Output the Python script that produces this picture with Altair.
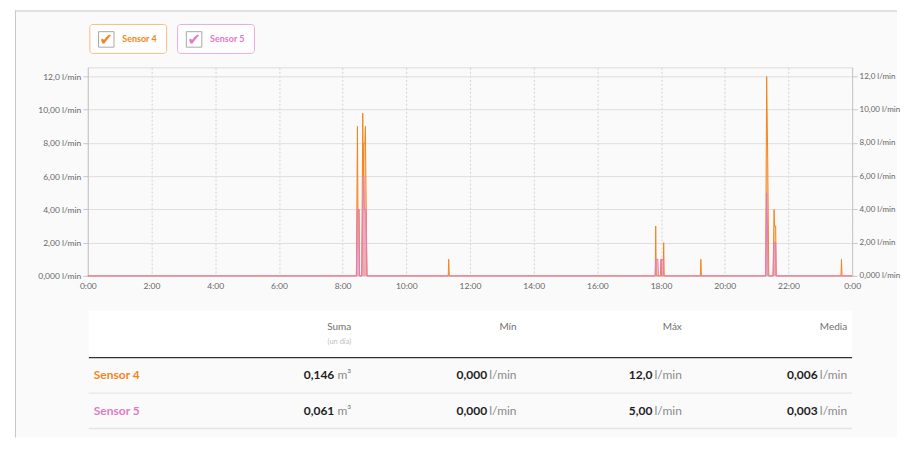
import altair as alt
import pandas as pd

# ---------------- data ----------------
SENSORS = ["Sensor 4", "Sensor 5"]
SENSOR_COLORS = ["#f7841a", "#e27ac6"]
LEGEND_BORDERS = ["#f5bf85", "#e9a9dc"]

S4_TIMES = ["0:00", "8:26", "8:28", "8:29", "8:31", "8:32", "8:36", "8:38", "8:39", "8:40",
            "8:42", "8:43", "8:44", "8:46", "11:19", "11:20", "11:21", "17:49", "17:50",
            "17:51", "17:59", "18:00", "18:01", "18:04", "18:05", "18:06", "19:14", "19:15",
            "19:16", "21:17", "21:19", "21:21", "21:23", "21:31", "21:33", "21:34", "21:36",
            "21:37", "23:39", "23:40", "23:41", "24:00"]
S4_VALUES = [0, 0, 9.0, 4.0, 4.0, 0, 0, 9.8, 6.0, 8.0,
             8.0, 9.0, 5.5, 0, 0, 1.0, 0, 0, 3.0,
             0, 0, 1.0, 0, 0, 2.0, 0, 0, 1.0,
             0, 0, 12.0, 7.0, 0, 0, 4.0, 3.0, 3.0,
             0, 0, 1.0, 0, 0]

S5_TIMES = ["0:00", "8:26", "8:28", "8:31", "8:32", "8:36", "8:38", "8:40", "8:41", "8:44",
            "8:46", "17:49", "17:50", "17:54", "17:55", "17:59", "18:00", "18:04", "18:05",
            "21:17", "21:19", "21:21", "21:22", "21:31", "21:33", "21:36", "21:37", "24:00"]
S5_VALUES = [0, 0, 4.0, 4.0, 0, 0, 4.0, 6.0, 4.0, 4.0,
             0, 0, 1.0, 1.0, 0, 0, 1.0, 1.0, 0,
             0, 5.0, 2.0, 0, 0, 2.0, 2.0, 0, 0]

X_TICKS = [0, 2, 4, 6, 8, 10, 12, 14, 16, 18, 20, 22, 24]
X_LABELS = ["0:00", "2:00", "4:00", "6:00", "8:00", "10:00", "12:00", "14:00", "16:00",
            "18:00", "20:00", "22:00", "0:00"]
Y_TICKS = [0, 2, 4, 6, 8, 10, 12]
Y_LABELS = ["0,000 l/min", "2,00 l/min", "4,00 l/min", "6,00 l/min", "8,00 l/min",
            "10,00 l/min", "12,0 l/min"]

COLUMNS = ["Suma", "Mín", "Máx", "Media"]
SUBTITLES = ["(un día)", "", "", ""]
UNITS = ["m³", "l/min", "l/min", "l/min"]
S4_STATS = ["0,146", "0,000", "12,0", "0,006"]
S5_STATS = ["0,061", "0,000", "5,00", "0,003"]


def to_hours(t):
    h, m = t.split(":")
    return int(h) + int(m) / 60.0


def label_expr(vals, labels):
    expr = "''"
    for v, l in reversed(list(zip(vals, labels))):
        expr = f"datum.value == {v} ? '{l}' : ({expr})"
    return expr


rows = []
for sensor, times, values in [("Sensor 4", S4_TIMES, S4_VALUES), ("Sensor 5", S5_TIMES, S5_VALUES)]:
    for t, v in zip(times, values):
        rows.append({"sensor": sensor, "hour": to_hours(t), "value": v})
series = pd.DataFrame(rows)

stats_rows = []
for sensor, stats in [("Sensor 4", S4_STATS), ("Sensor 5", S5_STATS)]:
    for c, n, u in zip(COLUMNS, stats, UNITS):
        stats_rows.append({"sensor": sensor, "col": c, "num": n, "unit": u})
stats = pd.DataFrame(stats_rows)

one = pd.DataFrame({"k": [0]})

color_enc = alt.Color("sensor:N", scale=alt.Scale(domain=SENSORS, range=SENSOR_COLORS), legend=None)

# ---------------- legend panel (also carries the card background) ----------------
card = alt.Chart(one).mark_rect(fill="#fafafa", strokeWidth=0).encode(
    x=alt.value(-73), x2=alt.value(811), y=alt.value(-14), y2=alt.value(414))
left_border = alt.Chart(one).mark_rule(color="#c6c6c6", strokeWidth=1).encode(
    x=alt.value(-72.5), y=alt.value(-14), y2=alt.value(414))
top_border = alt.Chart(one).mark_rule(color="#c6c6c6", strokeWidth=1).encode(
    x=alt.value(-73), x2=alt.value(811), y=alt.value(-13.5))

leg_df = pd.DataFrame({"sensor": SENSORS})
lx = alt.X("sensor:N", scale=alt.Scale(type="band", domain=SENSORS, paddingInner=0.125,
                                       paddingOuter=0.0227), axis=None)
boxes = alt.Chart(leg_df).mark_rect(fill="white", cornerRadius=3, strokeWidth=1).encode(
    x=lx,
    stroke=alt.Stroke("sensor:N", scale=alt.Scale(domain=SENSORS, range=LEGEND_BORDERS), legend=None),
)
checkbox = alt.Chart(leg_df).mark_point(shape="square", size=240, filled=True, fill="white",
                                        stroke="#a8a8a8", strokeWidth=1, opacity=1,
                                        xOffset=-22).encode(x=lx, y=alt.value(15))
check = alt.Chart(leg_df).mark_text(text="✔", font="DejaVu Sans", fontSize=16, fontWeight="bold",
                                    dx=-22, baseline="middle").encode(x=lx, y=alt.value(15.5),
                                                                      color=color_enc)
leg_label = alt.Chart(leg_df).mark_text(align="left", baseline="middle", dx=-6, fontWeight="bold",
                                        fontSize=9).encode(x=lx, y=alt.value(15), text="sensor:N",
                                                           color=color_enc)
legend_panel = alt.layer(card, left_border, top_border, boxes, checkbox, check, leg_label).properties(
    width=169, height=29, view=alt.ViewBackground(stroke="transparent"))

# ---------------- main panel ----------------
x_enc = alt.X("hour:Q", scale=alt.Scale(domain=[0, 24], nice=False, zero=False),
              axis=alt.Axis(values=X_TICKS, labelExpr=label_expr(X_TICKS, X_LABELS), title=None,
                            grid=True, gridColor="#d2d2d2", gridDash=[2, 2], ticks=False,
                            domain=False, labelFontSize=8.5, labelColor="#666666",
                            labelPadding=6, labelFlush=False))
y_scale = alt.Scale(domain=[0, 12.55], nice=False)
y_left = alt.Y("value:Q", stack=None, scale=y_scale,
               axis=alt.Axis(values=Y_TICKS, labelExpr=label_expr(Y_TICKS, Y_LABELS), orient="left",
                             title=None, grid=True, gridColor="#dedede", tickColor="#c8c8c8",
                             tickSize=5, domainColor="#c8c8c8", labelPadding=2,
                             labelFontSize=8.5, labelColor="#666666"))
y_right = alt.Y("value:Q", stack=None, scale=y_scale,
                axis=alt.Axis(values=Y_TICKS, labelExpr=label_expr(Y_TICKS, Y_LABELS), orient="right",
                              title=None, grid=False, tickColor="#c8c8c8", tickSize=5,
                              domainColor="#c8c8c8", labelPadding=2, labelFontSize=8,
                              labelColor="#666666"))

area = alt.Chart(series).mark_area(opacity=0.4).encode(x=x_enc, y=y_left, color=color_enc)
line = alt.Chart(series).mark_line(strokeWidth=1).encode(x=x_enc, y=y_right, color=color_enc)

main = alt.layer(area, line).resolve_axis(y="independent").properties(
    width=766, height=209, view=alt.ViewBackground(stroke="#dcdcdc"))

# ---------------- table panel ----------------
cols_df = pd.DataFrame({"col": COLUMNS, "sub": SUBTITLES})
cx = alt.X("col:N", scale=alt.Scale(type="point", domain=COLUMNS, range=[264, 761], padding=0),
           axis=None)
ry = alt.Y("sensor:N", scale=alt.Scale(type="band", domain=SENSORS, range=[68, 139],
                                       paddingInner=0, paddingOuter=0), axis=None)

header_bg = alt.Chart(one).mark_rect(fill="white").encode(
    x=alt.value(1), x2=alt.value(766), y=alt.value(21), y2=alt.value(68))
header_text = alt.Chart(cols_df).mark_text(align="right", baseline="middle", fontSize=10,
                                           color="#707070").encode(x=cx, y=alt.value(37), text="col:N")
sub_text = alt.Chart(cols_df).mark_text(align="right", baseline="middle", fontSize=7.5,
                                        color="#c0c0c0").encode(x=cx, y=alt.value(52), text="sub:N")
header_line = alt.Chart(one).mark_rule(color="#333333", strokeWidth=1.2).encode(
    x=alt.value(1), x2=alt.value(766), y=alt.value(68))
row_line1 = alt.Chart(one).mark_rule(color="#e3e3e3", strokeWidth=1).encode(
    x=alt.value(1), x2=alt.value(766), y=alt.value(103.5))
row_line2 = alt.Chart(one).mark_rule(color="#e3e3e3", strokeWidth=1.5).encode(
    x=alt.value(1), x2=alt.value(766), y=alt.value(139))

row_labels = alt.Chart(leg_df).mark_text(align="left", baseline="middle", fontWeight="bold",
                                         fontSize=12).encode(x=alt.value(6), y=ry, text="sensor:N",
                                                             color=color_enc)
num_suma = alt.Chart(stats).transform_filter(alt.datum.col == "Suma").mark_text(
    align="right", baseline="middle", fontWeight="bold", fontSize=12, dx=-17,
    color="#1e1e1e").encode(x=cx, y=ry, text="num:N")
num_other = alt.Chart(stats).transform_filter(alt.datum.col != "Suma").mark_text(
    align="right", baseline="middle", fontWeight="bold", fontSize=12, dx=-29.5,
    color="#1e1e1e").encode(x=cx, y=ry, text="num:N")
units = alt.Chart(stats).mark_text(align="right", baseline="middle", fontSize=12,
                                   color="#8a8a8a").encode(x=cx, y=ry, text="unit:N")

table_panel = alt.layer(header_bg, header_text, sub_text, header_line, row_line1, row_line2,
                        row_labels, num_suma, num_other, units).properties(
    width=766, height=139, view=alt.ViewBackground(stroke="transparent"))

chart = alt.vconcat(legend_panel, main, table_panel, spacing=14, bounds="flush").properties(
    background="white",
    padding={"left": 6, "top": 1, "right": 0, "bottom": 0},
).configure(font="Lato")

chart.save("out.html", embed_options={"renderer": "svg", "actions": False})
